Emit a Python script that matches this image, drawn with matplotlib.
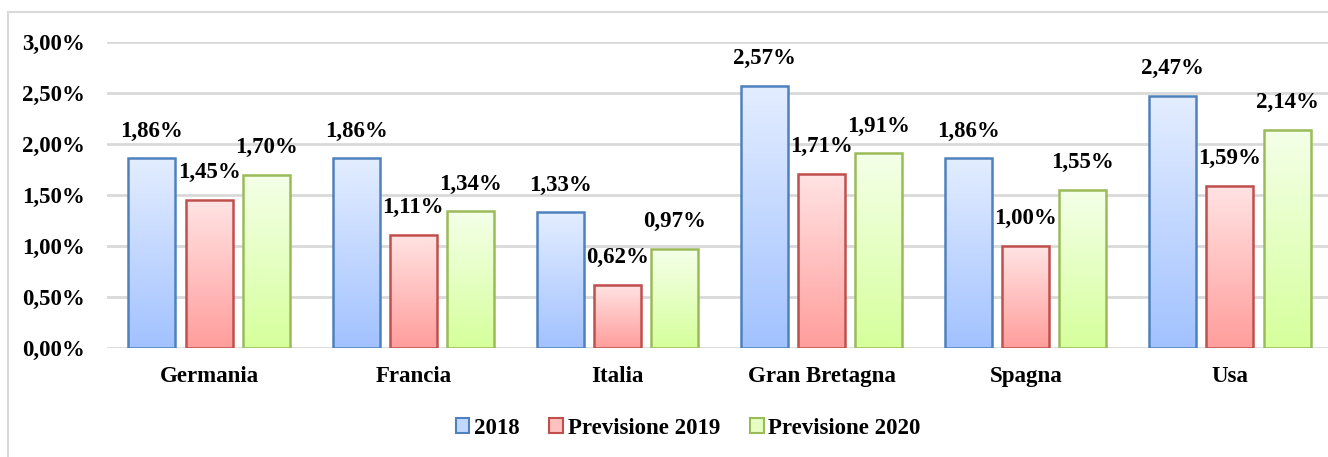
import numpy as np
import matplotlib
matplotlib.use('Agg')
import matplotlib.pyplot as plt
from matplotlib.patches import Patch
from matplotlib.lines import Line2D

paesi = ['Germania', 'Francia', 'Italia', 'Gran Bretagna', 'Spagna', 'Usa']
serie = ['2018', 'Previsione 2019', 'Previsione 2020']
v2018 = [1.86, 1.86, 1.33, 2.57, 1.86, 2.47]
v2019 = [1.45, 1.11, 0.62, 1.71, 1.00, 1.59]
v2020 = [1.70, 1.34, 0.97, 1.91, 1.55, 2.14]
yticks = [0, 0.5, 1.0, 1.5, 2.0, 2.5, 3.0]

# colori: (alto, basso, bordo)
colori = [('#e3edff', '#a2c2ff', '#4f81bd'),
          ('#ffe3e3', '#ff9e9c', '#c0504d'),
          ('#f4ffe8', '#d6ff9c', '#9bbb59')]

plt.rcParams['font.family'] = ['Liberation Serif', 'DejaVu Serif']
plt.rcParams['font.weight'] = 'bold'

fig = plt.figure(figsize=(13.28, 4.57), dpi=100)
ax = fig.add_axes([107/1328, 109/457, 1225/1328, 306/457])

x = np.arange(len(paesi))
off = 0.28
w = 0.23
fs = 16.5

def grad(c1, c2):
    a = np.array(matplotlib.colors.to_rgb(c1))
    b = np.array(matplotlib.colors.to_rgb(c2))
    t = np.linspace(0, 1, 64)[:, None]
    return (a * (1 - t) + b * t)[:, None, :]

for i, vals in enumerate([v2018, v2019, v2020]):
    top, bot, edge = colori[i]
    bars = ax.bar(x + (i - 1) * off, vals, w, facecolor='none',
                  edgecolor=edge, linewidth=1.8, zorder=4)
    g = grad(top, bot)
    for b, v in zip(bars, vals):
        x0 = b.get_x()
        ax.imshow(g, extent=[x0, x0 + b.get_width(), 0, b.get_height()],
                  aspect='auto', origin='upper', zorder=3, interpolation='bilinear')
        ax.annotate(f'{v:.2f}%'.replace('.', ','), (x0 + b.get_width() / 2, v),
                    xytext=(0, 12), textcoords='offset points', ha='center',
                    va='bottom', fontsize=fs, fontweight='bold')

ax.set_xlim(-0.5, len(paesi) - 0.5)
ax.set_ylim(0, 3.0)
ax.set_yticks(yticks)
ax.set_yticklabels([f'{t:.2f}%'.replace('.', ',') for t in yticks], fontsize=fs)
ax.set_xticks(x)
ax.set_xticklabels(paesi, fontsize=fs)
ax.tick_params(axis='y', length=0, pad=16)
ax.tick_params(axis='x', length=0, pad=13)
ax.grid(axis='y', color='#d9d9d9', linewidth=2, zorder=0)
ax.set_axisbelow(True)
for s in ax.spines.values():
    s.set_visible(False)

handles = [Patch(facecolor=matplotlib.colors.to_hex((np.array(matplotlib.colors.to_rgb(c[0])) + np.array(matplotlib.colors.to_rgb(c[1]))) / 2),
                 edgecolor=c[2], linewidth=1.5) for c in colori]
fig.legend(handles, serie, loc='center', bbox_to_anchor=(688/1328, 1 - 428/457),
           ncol=3, frameon=False, fontsize=fs, handlelength=0.6, handleheight=0.6,
           handletextpad=0.2, columnspacing=1.3)

# bordo esterno del grafico
fig.add_artist(Line2D([8/1328, 8/1328], [0, 1 - 12/457], color='#d9d9d9', lw=1.5,
                      transform=fig.transFigure))
fig.add_artist(Line2D([8/1328, 1], [1 - 12/457, 1 - 12/457], color='#d9d9d9', lw=1.5,
                      transform=fig.transFigure))

fig.savefig('out.png', dpi=100)
